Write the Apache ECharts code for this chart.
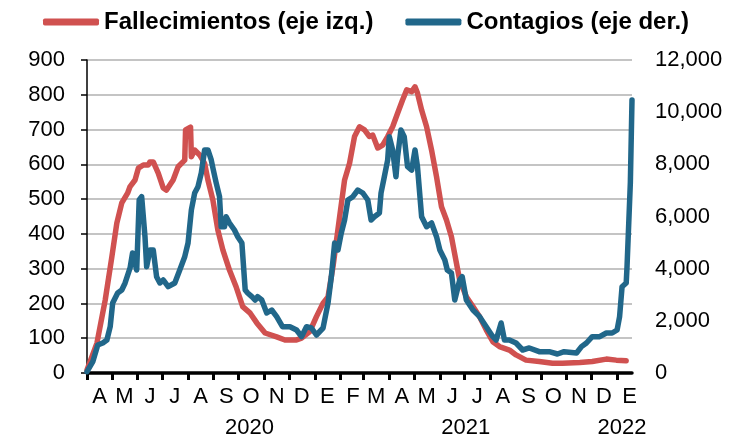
<!DOCTYPE html>
<html>
<head>
<meta charset="utf-8">
<script src="https://cdn.jsdelivr.net/npm/echarts@6/dist/echarts.min.js"></script>
<style>
  html, body { margin: 0; padding: 0; background: #ffffff; }
  #chart { width: 729px; height: 439px; }
</style>
</head>
<body>
<div id="chart"></div>
<script>
  // fallecimientos (eje izq.)
  const deathDates = [
    '2020-04-01', '2020-04-13', '2020-04-23', '2020-05-01', '2020-05-07', '2020-05-13', '2020-05-20', '2020-05-23',
    '2020-05-29', '2020-06-02', '2020-06-08', '2020-06-14', '2020-06-16', '2020-06-20', '2020-06-26', '2020-07-02',
    '2020-07-06', '2020-07-14', '2020-07-20', '2020-07-28', '2020-07-29', '2020-08-04', '2020-08-05', '2020-08-09',
    '2020-08-15', '2020-08-21', '2020-08-25', '2020-08-31', '2020-09-06', '2020-09-12', '2020-09-20', '2020-09-28',
    '2020-10-06', '2020-10-15', '2020-10-23', '2020-11-02', '2020-11-16', '2020-11-26', '2020-12-10', '2020-12-16',
    '2020-12-26', '2021-01-03', '2021-01-11', '2021-01-17', '2021-01-23', '2021-01-31', '2021-02-06', '2021-02-12',
    '2021-02-18', '2021-02-24', '2021-03-02', '2021-03-08', '2021-03-12', '2021-03-18', '2021-03-24', '2021-03-30',
    '2021-04-05', '2021-04-11', '2021-04-17', '2021-04-22', '2021-04-28', '2021-05-02', '2021-05-05', '2021-05-10',
    '2021-05-16', '2021-05-22', '2021-05-28', '2021-06-03', '2021-06-09', '2021-06-15', '2021-06-21', '2021-06-25',
    '2021-07-03', '2021-07-11', '2021-07-19', '2021-07-27', '2021-08-04', '2021-08-12', '2021-08-24', '2021-09-01',
    '2021-09-13', '2021-09-29', '2021-10-15', '2021-10-27', '2021-11-17', '2021-12-02', '2021-12-19', '2021-12-31',
    '2022-01-12'
  ]
  const deathValues = [
    9, 86, 210, 334, 431, 489, 517, 536,
    555, 589, 598, 598, 607, 607, 575, 532,
    526, 555, 593, 612, 699, 707, 622, 641,
    627, 603, 555, 497, 411, 354, 296, 248,
    191, 172, 144, 115, 104, 95, 95, 100,
    119, 162, 201, 219, 306, 449, 555, 603,
    680, 708, 699, 680, 684, 647, 655, 680,
    708, 747, 785, 814, 809, 823, 805, 756,
    708, 641, 564, 478, 440, 392, 316, 267,
    219, 191, 162, 124, 90, 76, 66, 52,
    37, 33, 28, 28, 30, 33, 40, 37,
    35
  ]

  // contagios (eje der.)
  const caseDates = [
    '2020-04-01', '2020-04-08', '2020-04-14', '2020-04-20', '2020-04-25', '2020-04-29', '2020-05-02', '2020-05-08',
    '2020-05-13', '2020-05-17', '2020-05-23', '2020-05-26', '2020-05-31', '2020-06-03', '2020-06-06', '2020-06-10',
    '2020-06-12', '2020-06-16', '2020-06-20', '2020-06-24', '2020-06-28', '2020-07-02', '2020-07-08', '2020-07-16',
    '2020-07-22', '2020-07-28', '2020-08-01', '2020-08-05', '2020-08-09', '2020-08-13', '2020-08-17', '2020-08-21',
    '2020-08-25', '2020-08-29', '2020-08-31', '2020-09-04', '2020-09-08', '2020-09-10', '2020-09-14', '2020-09-16',
    '2020-09-20', '2020-09-26', '2020-09-30', '2020-10-05', '2020-10-09', '2020-10-12', '2020-10-17', '2020-10-21',
    '2020-10-24', '2020-10-29', '2020-11-04', '2020-11-10', '2020-11-16', '2020-11-23', '2020-12-02', '2020-12-10',
    '2020-12-16', '2020-12-22', '2020-12-28', '2021-01-03', '2021-01-11', '2021-01-17', '2021-01-21', '2021-01-25',
    '2021-01-29', '2021-02-02', '2021-02-06', '2021-02-10', '2021-02-16', '2021-02-22', '2021-02-28', '2021-03-06',
    '2021-03-10', '2021-03-14', '2021-03-20', '2021-03-22', '2021-03-26', '2021-03-30', '2021-04-01', '2021-04-05',
    '2021-04-09', '2021-04-11', '2021-04-15', '2021-04-19', '2021-04-23', '2021-04-28', '2021-05-02', '2021-05-05',
    '2021-05-10', '2021-05-16', '2021-05-22', '2021-05-28', '2021-06-01', '2021-06-07', '2021-06-10', '2021-06-15',
    '2021-06-19', '2021-06-25', '2021-06-28', '2021-07-03', '2021-07-11', '2021-07-19', '2021-07-27', '2021-08-04',
    '2021-08-08', '2021-08-14', '2021-08-18', '2021-08-24', '2021-09-01', '2021-09-09', '2021-09-17', '2021-09-29',
    '2021-10-11', '2021-10-21', '2021-10-29', '2021-11-13', '2021-11-19', '2021-11-25', '2021-12-02', '2021-12-11',
    '2021-12-19', '2021-12-26', '2022-01-01', '2022-01-04', '2022-01-07', '2022-01-12', '2022-01-13', '2022-01-17',
    '2022-01-19'
  ]
  const caseValues = [
    50, 433, 1073, 1150, 1265, 1775, 2684, 3067,
    3182, 3451, 4026, 4601, 3949, 6633, 6760, 5226,
    4076, 4716, 4716, 3693, 3451, 3566, 3309, 3451,
    3949, 4459, 4984, 6250, 6901, 7143, 7668, 8550,
    8550, 8167, 7860, 7285, 6760, 5609, 5609, 5993,
    5751, 5483, 5226, 4984, 3182, 3067, 2927, 2799,
    2927, 2799, 2300, 2415, 2160, 1775, 1775, 1649,
    1393, 1775, 1725, 1457, 1725, 2684, 3693, 4984,
    4716, 5368, 5866, 6633, 6760, 7016, 6901, 6633,
    5866, 5993, 6135, 6901, 7527, 8167, 9060, 8550,
    7527, 8294, 9317, 9060, 7910, 7783, 8550, 7910,
    5993, 5609, 5751, 5226, 4716, 4333, 3949, 3834,
    2799, 3566, 3693, 2799, 2415, 2160, 1775, 1393,
    1265, 1917, 1265, 1265, 1150, 882, 959, 817,
    817, 728, 817, 767, 1010, 1150, 1393, 1393,
    1533, 1533, 1649, 2160, 3309, 3451, 4076, 7285,
    10467
  ]

  const monthLetters = ['E', 'F', 'M', 'A', 'M', 'J', 'J', 'A', 'S', 'O', 'N', 'D']
  // year label -> month where it sits
  const yearLabels = { '2020-9': '{a|2020}', '2021-6': '{b|2021}', '2022-0': '{c|2022}' }

  const axisStart = '2020-04-01'
  const axisEnd = '2022-01-19'

  const fontFamily = 'Liberation Sans, Arial, sans-serif'
  const red = '#d05150'
  const blue = '#21678a'

  const chart = echarts.init(document.getElementById('chart'), null, { renderer: 'canvas' })

  chart.setOption({
    animation: false,
    textStyle: { fontFamily: fontFamily },
    legend: {
      top: 5,
      left: 38,
      itemWidth: 56,
      itemHeight: 7,
      itemGap: 32,
      icon: 'roundRect',
      textStyle: {
        fontSize: 24,
        fontWeight: 'bold',
        color: '#000000',
        fontFamily: fontFamily
      },
      data: ['Fallecimientos (eje izq.)', 'Contagios (eje der.)']
    },
    grid: {
      left: 87,
      right: 97,
      top: 60,
      bottom: 66
    },
    xAxis: [
      {
        type: 'time',
        min: axisStart,
        max: axisEnd,
        minInterval: 28 * 86400000,
        maxInterval: 31 * 86400000,
        axisLine: { lineStyle: { color: '#000000', width: 3.5 } },
        axisTick: { show: true, length: 7, lineStyle: { color: '#000000', width: 3 } },
        splitLine: { show: false },
        axisLabel: {
          showMinLabel: true,
          showMaxLabel: false,
          fontSize: 22,
          color: '#000000',
          margin: 13,
          padding: [0, 0, 0, 25],
          formatter: function (value) {
            return monthLetters[new Date(value).getMonth()]
          }
        }
      },
      {
        type: 'time',
        position: 'bottom',
        offset: 31,
        min: axisStart,
        max: axisEnd,
        minInterval: 28 * 86400000,
        maxInterval: 31 * 86400000,
        axisLine: { show: false },
        axisTick: { show: false },
        splitLine: { show: false },
        axisLabel: {
          showMinLabel: true,
          showMaxLabel: false,
          fontSize: 22,
          color: '#000000',
          margin: 13,
          formatter: function (value) {
            const d = new Date(value)
            return yearLabels[d.getFullYear() + '-' + d.getMonth()] || ''
          },
          rich: {
            a: { fontSize: 22, color: '#000000', padding: [0, 0, 0, 22] },
            b: { fontSize: 22, color: '#000000', padding: [0, 0, 0, 2] },
            c: { fontSize: 22, color: '#000000', padding: [0, 0, 0, 10] }
          }
        }
      }
    ],
    yAxis: [
      {
        type: 'value',
        min: 0,
        max: 900,
        interval: 100,
        axisLine: { show: true, lineStyle: { color: '#000000', width: 1.5 } },
        axisTick: { show: true, length: 6, lineStyle: { color: '#000000', width: 1.5 } },
        splitLine: { lineStyle: { color: '#c4c4c4', width: 2 } },
        axisLabel: { fontSize: 22, color: '#000000', margin: 22 }
      },
      {
        type: 'value',
        min: 0,
        max: 12000,
        interval: 2000,
        axisLine: { show: false },
        axisTick: { show: false },
        splitLine: { show: false },
        axisLabel: {
          fontSize: 22,
          color: '#000000',
          margin: 23,
          formatter: function (v) {
            return v.toLocaleString('en-US')
          }
        }
      }
    ],
    series: [
      {
        name: 'Fallecimientos (eje izq.)',
        type: 'line',
        xAxisIndex: 0,
        yAxisIndex: 0,
        showSymbol: false,
        color: red,
        lineStyle: { color: red, width: 5.5, join: 'round', cap: 'round' },
        data: deathDates.map((d, i) => [d, deathValues[i]])
      },
      {
        name: 'Contagios (eje der.)',
        type: 'line',
        xAxisIndex: 0,
        yAxisIndex: 1,
        showSymbol: false,
        color: blue,
        lineStyle: { color: blue, width: 5.5, join: 'round', cap: 'round' },
        data: caseDates.map((d, i) => [d, caseValues[i]])
      }
    ]
  })
</script>
</body>
</html>
